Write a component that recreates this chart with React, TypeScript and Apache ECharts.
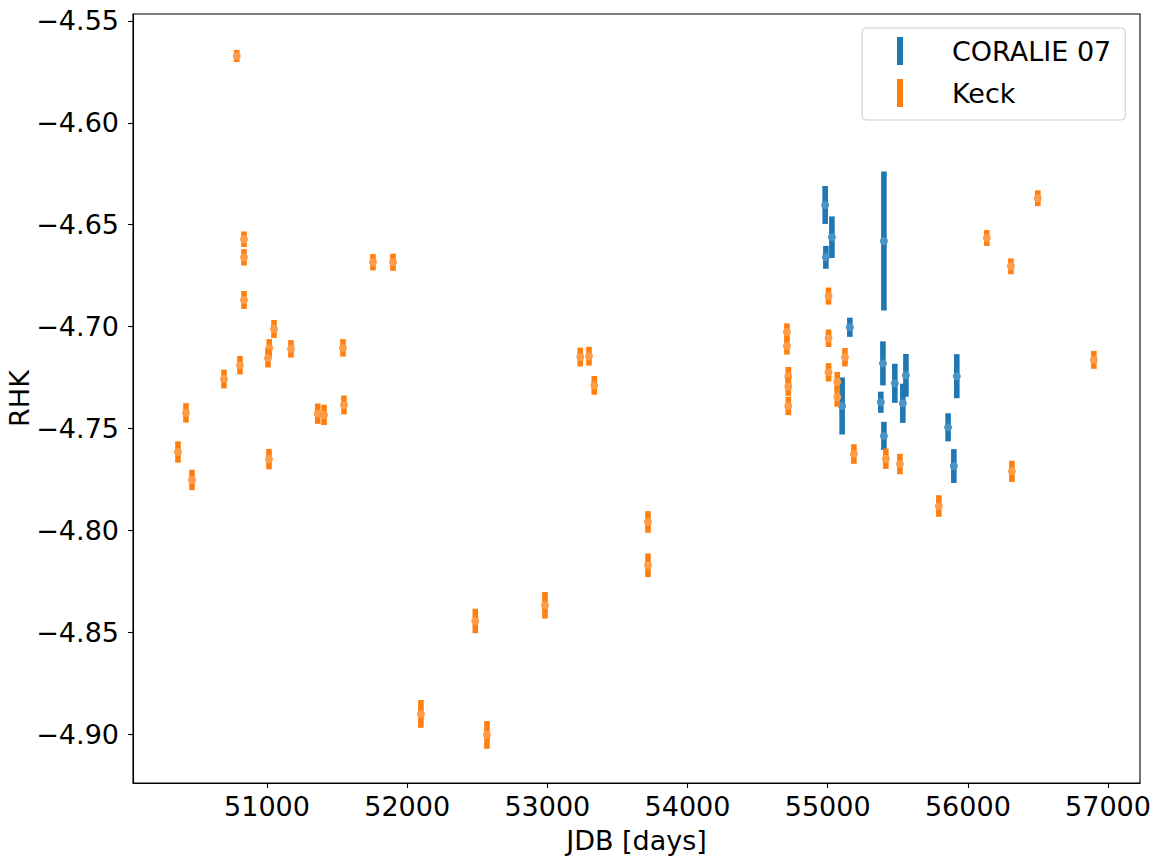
import React, { useEffect, useRef } from "react";
import * as echarts from "echarts";

// CORALIE 07 measurements
const coralieX = [54982, 55030, 54987, 55401, 55158, 55394, 55479, 55558, 55103, 55379, 55536, 55401, 55921, 55859, 55900];
const coralieY = [-4.6403, -4.6561, -4.666, -4.658, -4.7003, -4.718, -4.7278, -4.7239, -4.7389, -4.7371, -4.7376, -4.7536, -4.7243, -4.7494, -4.7684];
const coralieErr = [0.0093, 0.0102, 0.0056, 0.0341, 0.0047, 0.0108, 0.0096, 0.0105, 0.014, 0.0052, 0.0096, 0.0069, 0.0108, 0.0069, 0.0083];

// Keck measurements
const keckX = [
  50784, 50836, 50836, 50836, 51050, 51016, 51007, 51171, 51542, 50807,
  50693, 50422, 51362, 51407, 51549, 50365, 51014, 50465, 51756, 51899,
  52098, 52486, 52569, 52983, 53235, 53297, 53335, 53718, 53718, 54709,
  54709, 54719, 54719, 54719, 55006, 55006, 55006, 55068, 55068, 55123,
  55187, 55415, 55515, 55793, 56135, 56307, 56314, 56499, 56899,
];
const keckY = [
  -4.5672, -4.6571, -4.666, -4.6869, -4.7011, -4.7106, -4.7155, -4.7109, -4.7104, -4.7189,
  -4.7257, -4.7423, -4.7427, -4.7433, -4.7384, -4.7615, -4.765, -4.7752, -4.6684, -4.6684,
  -4.89, -4.8444, -4.9003, -4.8367, -4.7149, -4.7145, -4.7288, -4.7958, -4.8171, -4.7026,
  -4.7095, -4.7243, -4.7294, -4.7389, -4.685, -4.7057, -4.7224, -4.727, -4.7345, -4.715,
  -4.7625, -4.7648, -4.7674, -4.788, -4.6565, -4.6704, -4.771, -4.637, -4.7163,
];
const keckErr = [
  0.003, 0.0038, 0.004, 0.0044, 0.0044, 0.0045, 0.0045, 0.0043, 0.0043, 0.0045,
  0.0046, 0.0048, 0.005, 0.005, 0.0046, 0.0052, 0.005, 0.005, 0.004, 0.0042,
  0.0068, 0.006, 0.0068, 0.0065, 0.0046, 0.0046, 0.0046, 0.0053, 0.0058, 0.0042,
  0.0042, 0.0045, 0.0045, 0.0045, 0.0042, 0.0043, 0.0045, 0.0048, 0.0048, 0.0045,
  0.0048, 0.005, 0.005, 0.0053, 0.0039, 0.0039, 0.0052, 0.0039, 0.0044,
];

const xTicks = [51000, 52000, 53000, 54000, 55000, 56000, 57000];
const yTicks = [-4.9, -4.85, -4.8, -4.75, -4.7, -4.65, -4.6, -4.55];

const seriesNames = ["CORALIE 07", "Keck"];
const FONT = "DejaVu Sans";

function makeErrSeries(name: string, xs: number[], ys: number[], es: number[], color: string, light: string) {
  return {
    type: "custom",
    name,
    itemStyle: { color },
    encode: { x: 0, y: 1 },
    data: xs.map((x, i) => [x, ys[i], es[i]]),
    renderItem: (params: any, api: any) => {
      const x = api.value(0);
      const y = api.value(1);
      const e = api.value(2);
      const p0 = api.coord([x, y + e]);
      const p1 = api.coord([x, y - e]);
      const c = api.coord([x, y]);
      return {
        type: "group",
        children: [
          {
            type: "line",
            shape: { x1: p0[0], y1: p0[1], x2: p1[0], y2: p1[1] },
            style: { stroke: color, lineWidth: 5.6 },
          },
          {
            type: "circle",
            shape: { cx: c[0], cy: c[1], r: 4 },
            style: { fill: light },
          },
        ],
      };
    },
  };
}

export default function App() {
  const ref = useRef<HTMLDivElement>(null);
  useEffect(() => {
    if (!ref.current) return;
    const chart = echarts.init(ref.current, undefined, { renderer: "svg" });
    chart.setOption({
      animation: false,
      backgroundColor: "#ffffff",
      grid: {
        left: 133,
        top: 14,
        right: 12,
        bottom: 76,
        containLabel: false,
        outerBoundsMode: "none",
        show: true,
        borderColor: "#000",
        borderWidth: 1.1,
        backgroundColor: "transparent",
      },
      legend: {
        data: seriesNames,
        orient: "vertical",
        left: 862,
        top: 28,
        padding: [9, 14, 13, 35],
        itemGap: 14,
        itemWidth: 6,
        itemHeight: 28,
        icon: "rect",
        borderColor: "#cccccc",
        borderWidth: 1,
        borderRadius: 4,
        backgroundColor: "rgba(255,255,255,0.8)",
        textStyle: { fontFamily: FONT, fontSize: 27, color: "#000", padding: [0, 0, 0, 44] },
      },
      xAxis: {
        type: "value",
        min: 50044,
        max: 57228,
        name: "JDB [days]",
        nameLocation: "middle",
        nameGap: 44,
        nameMoveOverlap: false,
        nameTextStyle: { fontFamily: FONT, fontSize: 27, color: "#000" },
        axisLine: { show: true, onZero: false, lineStyle: { color: "#000", width: 1.1 } },
        axisTick: { show: true, length: 5, lineStyle: { color: "#000", width: 1.1 }, customValues: xTicks },
        axisLabel: {
          fontFamily: FONT,
          fontSize: 27,
          color: "#000",
          margin: 10,
          customValues: xTicks,
          formatter: (v: number) => String(v),
        },
        splitLine: { show: false },
      },
      yAxis: {
        type: "value",
        min: -4.9239,
        max: -4.5466,
        name: "RHK",
        nameLocation: "middle",
        nameGap: 100,
        nameRotate: 90,
        nameMoveOverlap: false,
        nameTextStyle: { fontFamily: FONT, fontSize: 27, color: "#000" },
        axisLine: { show: true, onZero: false, lineStyle: { color: "#000", width: 1.1 } },
        axisTick: { show: true, length: 5, lineStyle: { color: "#000", width: 1.1 }, customValues: yTicks },
        axisLabel: {
          fontFamily: FONT,
          fontSize: 27,
          color: "#000",
          margin: 14,
          customValues: yTicks,
          formatter: (v: number) => "\u2212" + Math.abs(v).toFixed(2),
        },
        splitLine: { show: false },
      },
      series: [
        makeErrSeries(seriesNames[0], coralieX, coralieY, coralieErr, "#1f77b4", "#4a93c6"),
        makeErrSeries(seriesNames[1], keckX, keckY, keckErr, "#ff7f0e", "#ff9d48"),
      ],
    });
    return () => chart.dispose();
  }, []);
  return (
    <div
      ref={ref}
      style={{ position: "absolute", left: 0, top: 0, width: 1152, height: 859, background: "#fff" }}
    />
  );
}
